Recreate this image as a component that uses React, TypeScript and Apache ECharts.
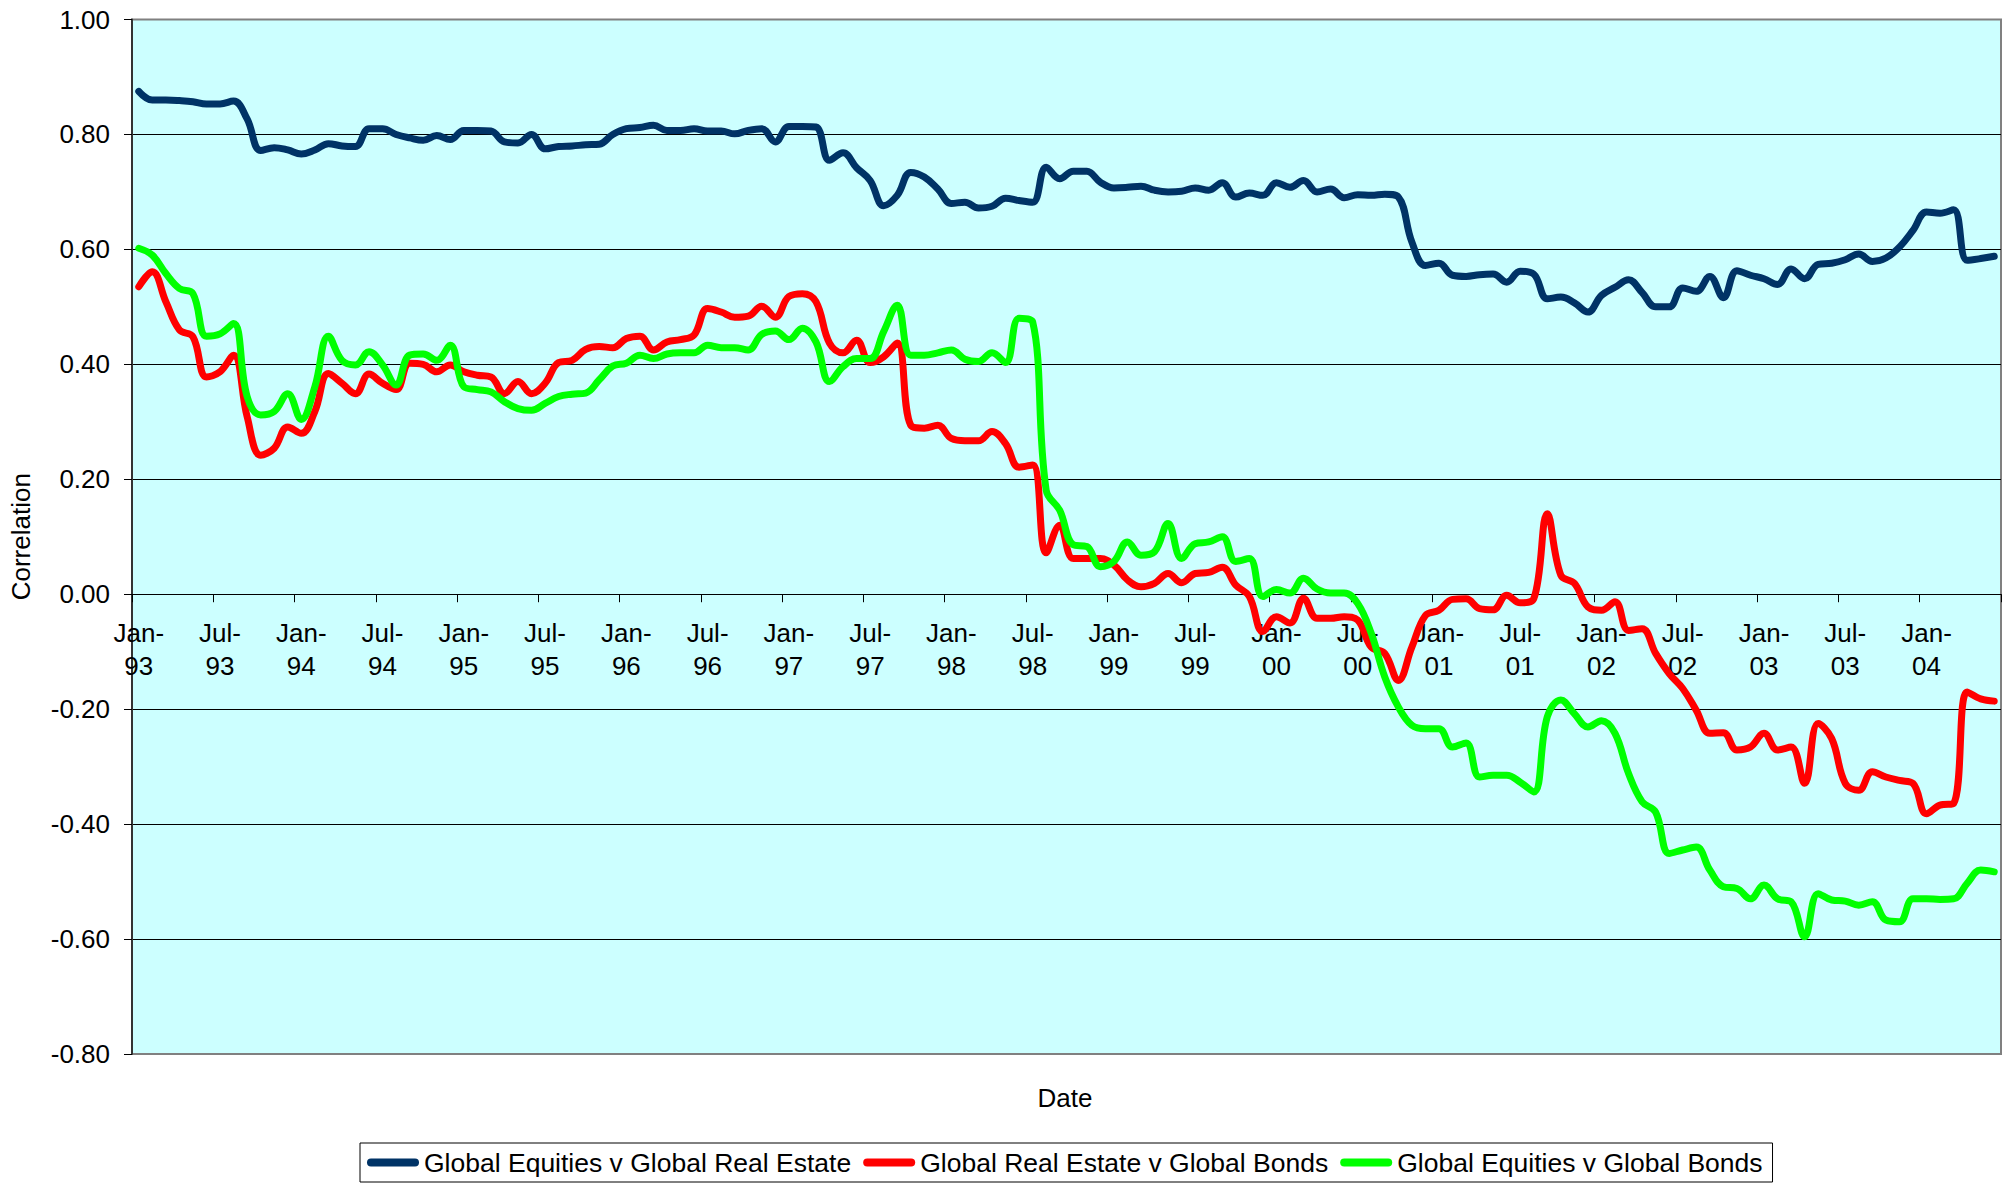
import React, { useEffect, useRef } from "react";
import * as echarts from "echarts";

const MONTHS = ["Jan", "Feb", "Mar", "Apr", "May", "Jun", "Jul", "Aug", "Sep", "Oct", "Nov", "Dec"];
const FIRST_YEAR = 93;

const SERIES_NAMES = [
  "Global Equities v Global Real Estate",
  "Global Real Estate v Global Bonds",
  "Global Equities v Global Bonds",
];
const SERIES_COLORS = ["#003366", "#FF0000", "#00FF00"];

const EQ_RE = [
  0.875, 0.86, 0.86, 0.859, 0.857, 0.853, 0.853, 0.858, 0.827, 0.772, 0.777, 0.773,
  0.766, 0.773, 0.784, 0.78, 0.779, 0.81, 0.81, 0.8, 0.794, 0.79, 0.798, 0.791,
  0.807, 0.807, 0.806, 0.787, 0.785, 0.8, 0.775, 0.779, 0.78, 0.782, 0.783, 0.8,
  0.81, 0.812, 0.816, 0.807, 0.807, 0.81, 0.806, 0.806, 0.801, 0.807, 0.81, 0.787,
  0.814, 0.814, 0.813, 0.755, 0.768, 0.742, 0.72, 0.676, 0.694, 0.734, 0.726, 0.705,
  0.68, 0.682, 0.672, 0.675, 0.689, 0.685, 0.682, 0.743, 0.723, 0.736, 0.736, 0.717,
  0.707, 0.708, 0.71, 0.703, 0.7, 0.701, 0.707, 0.703, 0.716, 0.691, 0.698, 0.694,
  0.716, 0.708, 0.72, 0.7, 0.705, 0.69, 0.695, 0.694, 0.696, 0.691, 0.613, 0.572,
  0.576, 0.555, 0.553, 0.556, 0.557, 0.543, 0.562, 0.557, 0.514, 0.517, 0.507, 0.491,
  0.52, 0.534, 0.547, 0.525, 0.5, 0.5, 0.533, 0.527, 0.553, 0.516, 0.563, 0.555,
  0.549, 0.539, 0.566, 0.549, 0.574, 0.576, 0.582, 0.592, 0.579, 0.585, 0.604, 0.633,
  0.665, 0.663, 0.669, 0.581, 0.584, 0.588,
];

const RE_BONDS = [
  0.535, 0.561, 0.509, 0.46, 0.448, 0.378, 0.387, 0.416, 0.309, 0.242, 0.254, 0.291,
  0.28, 0.318, 0.384, 0.367, 0.349, 0.383, 0.367, 0.356, 0.402, 0.4, 0.387, 0.399,
  0.387, 0.381, 0.378, 0.349, 0.37, 0.349, 0.367, 0.403, 0.407, 0.426, 0.431, 0.429,
  0.445, 0.449, 0.425, 0.439, 0.443, 0.451, 0.497, 0.491, 0.482, 0.484, 0.501, 0.482,
  0.518, 0.523, 0.509, 0.437, 0.42, 0.442, 0.403, 0.413, 0.437, 0.294, 0.289, 0.294,
  0.271, 0.267, 0.267, 0.283, 0.262, 0.221, 0.225, 0.072, 0.12, 0.062, 0.062, 0.062,
  0.051, 0.025, 0.013, 0.019, 0.036, 0.02, 0.036, 0.038, 0.047, 0.016, -0.004, -0.065,
  -0.039, -0.05, -0.007, -0.042, -0.042, -0.039, -0.045, -0.092, -0.103, -0.15, -0.092, -0.037,
  -0.028, -0.009, -0.008, -0.025, -0.027, -0.002, -0.015, -0.008, 0.14, 0.033, 0.019, -0.022,
  -0.028, -0.013, -0.063, -0.06, -0.103, -0.138, -0.164, -0.202, -0.242, -0.241, -0.271, -0.266,
  -0.242, -0.271, -0.266, -0.329, -0.225, -0.251, -0.329, -0.341, -0.309, -0.318, -0.324, -0.329,
  -0.382, -0.367, -0.364, -0.17, -0.182, -0.186,
];

const EQ_BONDS = [
  0.602, 0.59, 0.558, 0.532, 0.523, 0.449, 0.453, 0.471, 0.344, 0.312, 0.318, 0.349,
  0.304, 0.361, 0.449, 0.407, 0.399, 0.422, 0.399, 0.364, 0.416, 0.418, 0.407, 0.433,
  0.361, 0.356, 0.352, 0.335, 0.323, 0.32, 0.332, 0.344, 0.348, 0.35, 0.373, 0.397,
  0.402, 0.416, 0.41, 0.418, 0.42, 0.42, 0.433, 0.429, 0.429, 0.425, 0.452, 0.458,
  0.443, 0.463, 0.439, 0.37, 0.396, 0.41, 0.41, 0.457, 0.503, 0.416, 0.416, 0.42,
  0.425, 0.409, 0.405, 0.42, 0.403, 0.48, 0.474, 0.181, 0.146, 0.086, 0.083, 0.048,
  0.057, 0.091, 0.068, 0.074, 0.123, 0.062, 0.088, 0.091, 0.1, 0.057, 0.062, -0.004,
  0.008, 0.002, 0.028, 0.009, 0.002, 0.002, -0.016, -0.068, -0.144, -0.196, -0.228, -0.234,
  -0.234, -0.266, -0.259, -0.318, -0.315, -0.315, -0.327, -0.344, -0.213, -0.184, -0.208, -0.231,
  -0.22, -0.242, -0.312, -0.361, -0.379, -0.451, -0.445, -0.44, -0.48, -0.509, -0.512, -0.53,
  -0.506, -0.53, -0.535, -0.596, -0.521, -0.532, -0.534, -0.541, -0.535, -0.567, -0.57, -0.53,
  -0.53, -0.531, -0.53, -0.503, -0.48, -0.483,
];

const SERIES_DATA = [EQ_RE, RE_BONDS, EQ_BONDS];

const CATEGORIES = EQ_RE.map(
  (_, i) => `${MONTHS[i % 12]}-${String((FIRST_YEAR + Math.floor(i / 12)) % 100).padStart(2, "0")}`
);

const Y_MIN = -0.8;
const Y_MAX = 1.0;
const Y_STEP = 0.2;
const LABEL_EVERY = 6;

const FONT = '"Liberation Sans", Arial, Helvetica, sans-serif';

const CHART_W = 2011;
const CHART_H = 1186;
const GRID = { left: 130, right: 10, top: 19.5, bottom: 132 };
const PLOT_H = CHART_H - GRID.top - GRID.bottom;
// distance from the plot's bottom edge up to the zero line (keeps the category axis on zero)
const ZERO_OFFSET = -(PLOT_H * (0 - Y_MIN)) / (Y_MAX - Y_MIN);

export default function App() {
  const ref = useRef<HTMLDivElement>(null);

  useEffect(() => {
    if (!ref.current) return;
    const chart = echarts.init(ref.current, undefined, { renderer: "svg" });
    const option: any = {
      animation: false,
      backgroundColor: "#ffffff",
      textStyle: { fontFamily: FONT },
      grid: {
        ...GRID,
        show: true,
        backgroundColor: "#CCFFFF",
        borderColor: "#808080",
        borderWidth: 2,
        containLabel: false,
      },
      xAxis: {
        type: "category",
        data: CATEGORIES,
        boundaryGap: true,
        position: "bottom",
        offset: ZERO_OFFSET,
        axisLine: { show: true, onZero: false, lineStyle: { color: "#000000", width: 1 } },
        axisTick: { show: true, interval: LABEL_EVERY - 1, length: 8, lineStyle: { color: "#000000", width: 1 } },
        axisLabel: {
          interval: LABEL_EVERY - 1,
          margin: 22,
          fontSize: 26,
          lineHeight: 33,
          color: "#000000",
          fontFamily: FONT,
          formatter: (v: string) => v.replace("-", "-\n"),
        },
        splitLine: { show: false },
      },
      yAxis: {
        type: "value",
        min: Y_MIN,
        max: Y_MAX,
        interval: Y_STEP,
        name: "Correlation",
        nameLocation: "middle",
        nameGap: 98,
        nameTextStyle: { fontSize: 26, color: "#000000", fontFamily: FONT },
        axisLine: { show: true, lineStyle: { color: "#333333", width: 2 } },
        axisTick: { show: true, length: 8, lineStyle: { color: "#000000", width: 1 } },
        axisLabel: {
          margin: 22,
          fontSize: 26,
          color: "#000000",
          fontFamily: FONT,
          formatter: (v: number) => v.toFixed(2),
        },
        splitLine: {
          show: true,
          showMinLine: false,
          showMaxLine: false,
          lineStyle: { color: "#000000", width: 1 },
        },
      },
      legend: {
        left: 360,
        top: 1143,
        orient: "horizontal",
        padding: [6, 10, 6, 7],
        itemGap: 12,
        itemWidth: 52,
        itemHeight: 8,
        icon: "path://M4,0 H48 A4,4 0 0 1 48,8 H4 A4,4 0 0 1 4,0 Z",
        borderColor: "#000000",
        borderWidth: 1,
        backgroundColor: "#ffffff",
        borderRadius: 0,
        textStyle: { fontSize: 26.5, color: "#000000", fontFamily: FONT },
        data: SERIES_NAMES,
      },
      graphic: [
        {
          type: "text",
          x: 1065,
          y: 1098,
          style: {
            text: "Date",
            fontSize: 26,
            fontFamily: FONT,
            fill: "#000000",
            align: "center",
            verticalAlign: "middle",
          },
        },
      ],
      series: SERIES_NAMES.map((name, i) => ({
        name,
        type: "line",
        data: SERIES_DATA[i],
        smooth: 0.4,
        showSymbol: false,
        symbol: "none",
        lineStyle: { color: SERIES_COLORS[i], width: 7, cap: "round", join: "round" },
        itemStyle: { color: SERIES_COLORS[i] },
      })),
    };
    chart.setOption(option);
    return () => chart.dispose();
  }, []);

  return (
    <div
      ref={ref}
      style={{ position: "absolute", left: 0, top: 0, width: CHART_W, height: CHART_H }}
    />
  );
}
